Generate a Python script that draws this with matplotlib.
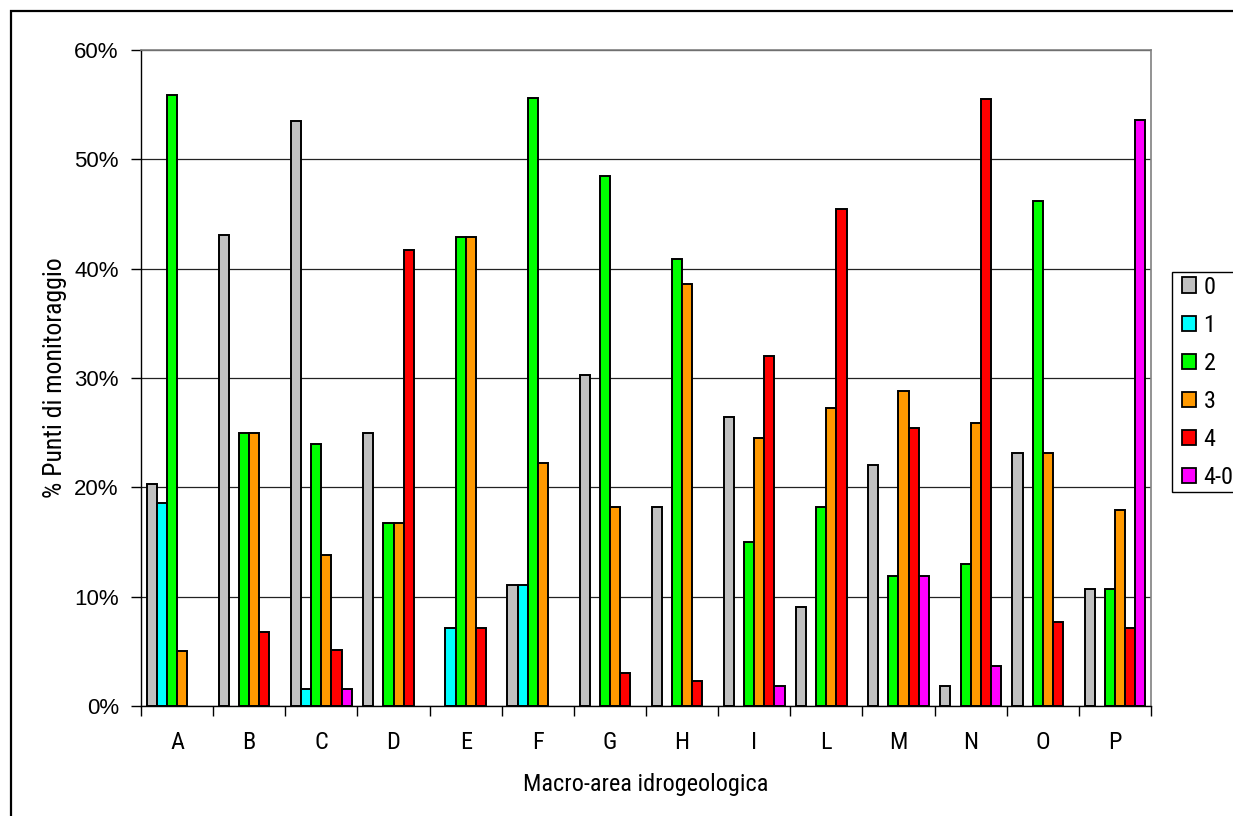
import numpy as np
import matplotlib
matplotlib.use("Agg")
import matplotlib.pyplot as plt
from matplotlib import font_manager
from matplotlib.font_manager import FontProperties
from matplotlib.patches import Rectangle
from matplotlib.ticker import FixedLocator, PercentFormatter

# ---- data: % of monitoring points per class, by hydrogeological macro-area
categories = ["A", "B", "C", "D", "E", "F", "G", "H", "I", "L", "M", "N", "O", "P"]
series_names = ["0", "1", "2", "3", "4", "4-0"]

class_0 = [20.3, 43.1, 53.5, 25.0, 0.0, 11.1, 30.3, 18.2, 26.4, 9.1, 22.0, 1.8, 23.1, 10.7]
class_1 = [18.6, 0.0, 1.6, 0.0, 7.1, 11.1, 0.0, 0.0, 0.0, 0.0, 0.0, 0.0, 0.0, 0.0]
class_2 = [55.9, 25.0, 24.0, 16.7, 42.9, 55.6, 48.5, 40.9, 15.0, 18.2, 11.9, 13.0, 46.2, 10.7]
class_3 = [5.0, 25.0, 13.8, 16.7, 42.9, 22.2, 18.2, 38.6, 24.5, 27.3, 28.8, 25.9, 23.1, 17.9]
class_4 = [0.0, 6.8, 5.1, 41.7, 7.1, 0.0, 3.0, 2.3, 32.0, 45.5, 25.4, 55.5, 7.7, 7.1]
class_40 = [0.0, 0.0, 1.6, 0.0, 0.0, 0.0, 0.0, 0.0, 1.8, 0.0, 11.9, 3.7, 0.0, 53.6]

series_values = [class_0, class_1, class_2, class_3, class_4, class_40]
series_colors = ["#C0C0C0", "#00FFFF", "#00FF00", "#FF9900", "#FF0000", "#FF00FF"]

y_ticks = [0, 10, 20, 30, 40, 50, 60]
x_title = "Macro-area idrogeologica"
y_title = "% Punti di monitoraggio"

# ---- fonts: a condensed sans for labels if one is installed
regular = "Liberation Sans"
plt.rcParams["font.family"] = [regular, "DejaVu Sans"]


def find_condensed():
    prefs = ["liberation sans narrow", "liberationsansnarrow", "noto sans condensed",
             "notosans-condensed", "roboto condensed", "robotocondensed",
             "open sans condensed", "opensans_condensed", "opensans-condensed",
             "dejavu sans condensed", "dejavusanscondensed"]
    cands = []
    for f in font_manager.fontManager.ttflist:
        key = (f.name + " " + f.fname.split("/")[-1]).lower().replace("_", "-")
        if f.style != "normal":
            continue
        if f.weight not in (400, "normal", "regular", "book"):
            continue
        low = key.replace(" ", "")
        for rank, p in enumerate(prefs):
            if p.replace(" ", "") in low or (p in key):
                fn = f.fname.lower()
                if any(b in fn for b in ("bold", "italic", "light", "thin", "black",
                                          "medium", "semi", "extra")):
                    continue
                cands.append((rank, f.fname))
                break
        else:
            if f.stretch in ("condensed",) and "sans" in f.name.lower():
                fn = f.fname.lower()
                if not any(b in fn for b in ("bold", "italic", "oblique", "light",
                                              "semi", "extra", "black")):
                    cands.append((50, f.fname))
    if cands:
        cands.sort()
        return cands[0][1]
    return None


cond_file = find_condensed()


def label_font(size):
    if cond_file:
        return FontProperties(fname=cond_file, size=size)
    return FontProperties(family=regular, size=size * 0.94)


W, H = 1233, 816
fig = plt.figure(figsize=(W / 100, H / 100), dpi=100)
fig.patch.set_facecolor("white")

# outer chart border (runs off the right and bottom edges)
fig.add_artist(Rectangle((11 / W, -0.05), 1.1, 1 - 11 / H + 0.05,
                         transform=fig.transFigure, fill=False,
                         edgecolor="black", linewidth=1.6))

# plot area in pixel coordinates
left, right, top, bottom = 141, 1151, 50, 706
ax = fig.add_axes([left / W, 1 - bottom / H, (right - left) / W, (bottom - top) / H])

n_series = len(series_values)
bar_w = 0.14
x = np.arange(len(categories))
handles = []
for j, (vals, col, name) in enumerate(zip(series_values, series_colors, series_names)):
    v = np.asarray(vals, dtype=float)
    pos = x + (j - (n_series - 1) / 2) * bar_w
    mask = v > 0
    ax.bar(pos[mask], v[mask], width=bar_w, color=col, edgecolor="black",
           linewidth=1.4, zorder=3)
    handles.append(Rectangle((0, 0), 1, 1, facecolor=col, edgecolor="black", linewidth=1.3))

ax.set_xlim(-0.5, len(categories) - 0.5)
ax.set_ylim(0, 60)

# y axis
ax.set_yticks(y_ticks)
ax.yaxis.set_major_formatter(PercentFormatter(decimals=0))
ax.tick_params(axis="y", direction="out", length=7, width=1, pad=9, labelsize=16,
               colors="black")
ax.grid(axis="y", color="#222222", linewidth=0.9, zorder=1)

# x axis: labels at centers, ticks at category boundaries
ax.set_xticks(x)
ax.set_xticklabels(categories, fontproperties=label_font(17.5))
ax.tick_params(axis="x", which="major", length=0, pad=18)
ax.xaxis.set_minor_locator(FixedLocator(np.arange(-0.5, len(categories), 1.0)))
ax.tick_params(axis="x", which="minor", direction="out", length=7, width=1, colors="black")

for s in ("top", "right"):
    ax.spines[s].set_color("#808080")
    ax.spines[s].set_linewidth(1.2)
for s in ("left", "bottom"):
    ax.spines[s].set_color("black")
    ax.spines[s].set_linewidth(1.0)
ax.spines["bottom"].set_zorder(4)

ax.set_xlabel(x_title, fontproperties=label_font(17.5))
ax.xaxis.set_label_coords(0.5, -(785 - bottom) / (bottom - top), transform=ax.transAxes)
ax.xaxis.label.set_va("center")
ax.set_ylabel(y_title, fontproperties=label_font(18.5))
ax.yaxis.set_label_coords((55 - left) / (right - left), 0.5, transform=ax.transAxes)
ax.yaxis.label.set_va("center")

# legend: frame drawn separately so it can run into the right edge
fig.add_artist(Rectangle((1172 / W, 1 - 492 / H), 0.2, 220 / H,
                         transform=fig.transFigure, fill=True, facecolor="white",
                         edgecolor="black", linewidth=1.0, zorder=5))
leg_font = label_font(17.5) if cond_file else FontProperties(family=regular, size=15.5)
leg = fig.legend(handles, series_names, loc="upper left",
                 bbox_to_anchor=(1172 / W, 1 - 266 / H),
                 prop=leg_font,
                 frameon=False,
                 handlelength=0.6, handleheight=0.6, handletextpad=0.3,
                 labelspacing=0.62, borderpad=0.4, borderaxespad=0)
leg.set_zorder(6)

fig.savefig("out.png", dpi=100, facecolor="white")
